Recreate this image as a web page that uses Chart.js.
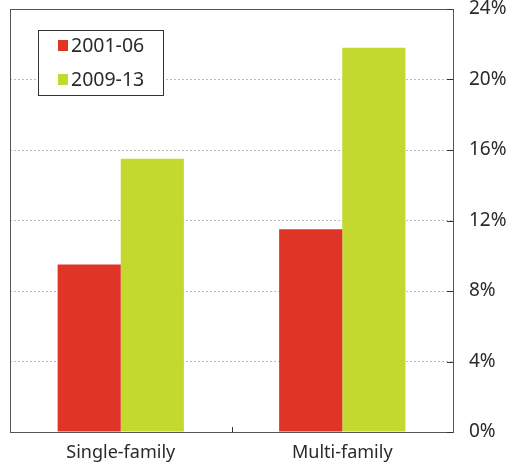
<!DOCTYPE html>
<html>
<head>
<meta charset="utf-8">
<script src="https://cdn.jsdelivr.net/npm/chart.js@4/dist/chart.umd.min.js"></script>
<style>
  html, body { margin: 0; padding: 0; background: #fff; }
  #wrap { width: 510px; height: 465px; }
</style>
</head>
<body>
<div id="wrap"><canvas id="chart"></canvas></div>
<script>
const categories = ["Single-family", "Multi-family"];
const seriesNames = ["2001-06", "2009-13"];
const values0106 = [9.5, 11.5];
const values0913 = [15.5, 21.8];
const yTicks = [0, 4, 8, 12, 16, 20, 24];

const RED = "#e03427";
const GREEN = "#c3d930";
const FONT = "'Noto Sans', sans-serif";

// frame around the plot, short inward ticks and the legend box
const framePlugin = {
  id: "frame",
  afterDraw(chart) {
    const { ctx, chartArea: a, scales } = chart;
    ctx.save();
    ctx.strokeStyle = "#555";
    ctx.lineWidth = 1;
    ctx.strokeRect(a.left + 0.5, a.top + 0.5, a.right - a.left, a.bottom - a.top);

    // inward ticks on the right edge
    ctx.strokeStyle = "#333";
    yTicks.forEach((v) => {
      const y = Math.round(scales.y.getPixelForValue(v)) + 0.5;
      ctx.beginPath();
      ctx.moveTo(a.right - 6, y);
      ctx.lineTo(a.right, y);
      ctx.stroke();
    });
    // small tick between the two groups
    const mid = Math.round((scales.x.getPixelForValue(0) + scales.x.getPixelForValue(1)) / 2) + 0.5;
    ctx.beginPath();
    ctx.moveTo(mid, a.bottom - 5);
    ctx.lineTo(mid, a.bottom);
    ctx.stroke();

    // legend
    const lx = a.left + 28, ly = a.top + 21;
    ctx.fillStyle = "#fff";
    ctx.fillRect(lx, ly, 125, 65);
    ctx.strokeStyle = "#333";
    ctx.strokeRect(lx + 0.5, ly + 0.5, 125, 65);
    ctx.font = "19.5px " + FONT;
    ctx.textBaseline = "middle";
    chart.data.datasets.forEach((ds, i) => {
      const cy = ly + 15 + i * 34;
      ctx.fillStyle = ds.backgroundColor;
      ctx.fillRect(lx + 20, cy - 5, 10, 11);
      ctx.fillStyle = "#2a2a2a";
      ctx.fillText(ds.label, lx + 33, cy + 1);
    });
    ctx.restore();
  }
};

new Chart(document.getElementById("chart"), {
  type: "bar",
  data: {
    labels: categories,
    datasets: [
      { label: seriesNames[0], data: values0106, backgroundColor: RED },
      { label: seriesNames[1], data: values0913, backgroundColor: GREEN }
    ]
  },
  options: {
    responsive: true,
    maintainAspectRatio: false,
    animation: false,
    layout: { padding: { left: 10, top: 9, right: 0, bottom: 0 } },
    categoryPercentage: 0.57,
    barPercentage: 1,
    plugins: { legend: { display: false }, tooltip: { enabled: false } },
    scales: {
      x: {
        grid: { display: false, drawTicks: false },
        border: { display: false },
        ticks: { color: "#2a2a2a", font: { family: FONT, size: 18 }, padding: 10 },
        afterFit(scale) { scale.height = 33; }
      },
      y: {
        position: "right",
        min: 0,
        max: 24,
        afterBuildTicks(scale) { scale.ticks = yTicks.map((v) => ({ value: v })); },
        grid: {
          color: (c) => (c.tick && (c.tick.value === 0 || c.tick.value === 24) ? "rgba(0,0,0,0)" : "#bbb"),
          drawTicks: false
        },
        border: { display: false, dash: [2, 2] },
        ticks: {
          color: "#2a2a2a",
          font: { family: FONT, size: 19 },
          padding: 16,
          callback: (v) => v + "%"
        },
        afterFit(scale) {
          scale.width = 57;
          scale.paddingTop = 0;
          scale.paddingBottom = 0;
        }
      }
    }
  },
  plugins: [framePlugin]
});
</script>
</body>
</html>
